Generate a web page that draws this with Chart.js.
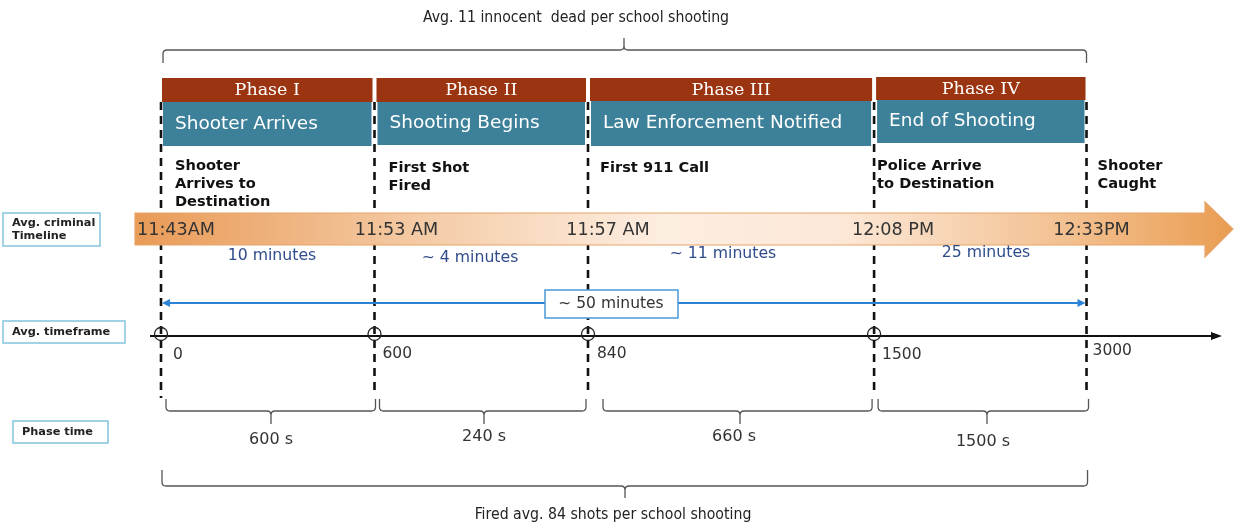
<!DOCTYPE html>
<html><head><meta charset="utf-8">
<script src="https://cdn.jsdelivr.net/npm/chart.js@4.4.1/dist/chart.umd.min.js"></script>
<style>html,body{margin:0;padding:0;background:#fff;}#wrap{width:1234px;height:524px;}</style>
</head><body><div id="wrap"><canvas id="c" width="1234" height="524"></canvas></div>
<script>
// ---------- data ----------
const topNote = "Avg. 11 innocent  dead per school shooting";
const bottomNote = "Fired avg. 84 shots per school shooting";
const rowLabels = [["Avg. criminal","Timeline"],["Avg. timeframe"],["Phase time"]];
const phaseNames = ["Phase I","Phase II","Phase III","Phase IV"];
const phaseTitles = ["Shooter Arrives","Shooting Begins","Law Enforcement Notified","End of Shooting"];
const milestoneLabels = [["Shooter","Arrives to","Destination"],["First Shot","Fired"],["First 911 Call"],["Police Arrive","to Destination"],["Shooter","Caught"]];
const clockTimes = ["11:43AM","11:53 AM","11:57 AM","12:08 PM","12:33PM"];
const timeframeSeconds = [0,600,840,1500,3000];
const phaseMinutes = ["10 minutes","~ 4 minutes","~ 11 minutes","25 minutes"];
const phaseSeconds = [600,240,660,1500];
const totalMinutes = "~ 50 minutes";
const milestoneSlots = [0,1,2,3.34,4.335];

// ---------- drawing ----------
const SANS = '"DejaVu Sans", sans-serif';
const COND = '"DejaVu Sans Condensed", "DejaVu Sans", sans-serif';
const SERIF = '"DejaVu Serif", serif';

function brace(ctx,x1,x2,yL,yE,tx,yT){
  const r=4, s=Math.sign(yE-yL), t=Math.sign(yT-yL);
  ctx.beginPath();
  ctx.moveTo(x1,yE); ctx.lineTo(x1,yL+s*r);
  ctx.quadraticCurveTo(x1,yL,x1+r,yL);
  ctx.lineTo(tx-r,yL);
  ctx.quadraticCurveTo(tx,yL,tx,yL+t*r);
  ctx.lineTo(tx,yT);
  ctx.moveTo(tx,yL+t*r);
  ctx.quadraticCurveTo(tx,yL,tx+r,yL);
  ctx.lineTo(x2-r,yL);
  ctx.quadraticCurveTo(x2,yL,x2,yL+s*r);
  ctx.lineTo(x2,yE);
  ctx.stroke();
}
function text(ctx,str,x,y,font,color,align){
  ctx.font=font; ctx.fillStyle=color; ctx.textAlign=align||'left'; ctx.textBaseline='middle';
  ctx.fillText(str,x,y);
}

const infographic = {
  id:'infographic',
  beforeDatasetsDraw(chart){
    const ctx=chart.ctx, xs=chart.scales.x, ys=chart.scales.y;
    const X=v=>xs.getPixelForValue(v), Y=v=>ys.getPixelForValue(v);
    const P=milestoneSlots.map(X);
    ctx.save();

    // top note + brace
    text(ctx,topNote,576,Y(18),'15.7px '+COND,'#222','center');
    ctx.strokeStyle='#555'; ctx.lineWidth=1.3;
    brace(ctx,P[0]+2,P[4],Y(50),Y(63),624,Y(38));

    // phase headers & boxes
    const hdrY=[78,78,78,77], hdrB=[102,102,101,100], boxB=[146,145,146,143];
    const txtY=[124,123,123,121];
    for(let i=0;i<4;i++){
      const l=P[i]+(i===0?1:2), r=P[i+1]-(i===3?1:2);
      ctx.fillStyle='#9B3511';
      ctx.fillRect(l,Y(hdrY[i]),r-l,Y(hdrB[i])-Y(hdrY[i]));
      ctx.fillStyle='#3C8099';
      ctx.fillRect(l+1,Y(hdrB[i]),r-l-2,Y(boxB[i])-Y(hdrB[i]));
      text(ctx,phaseNames[i],(l+r)/2,Y(hdrY[i]+12),'17.5px '+SERIF,'#fff','center');
      text(ctx,phaseTitles[i],l+13,Y(txtY[i]),'18.5px '+SANS,'#fff','left');
    }

    // dashed milestone lines
    ctx.strokeStyle='#111'; ctx.lineWidth=2.6; ctx.setLineDash([8,6]);
    const dashEnd=[398,394,394,394,394];
    P.forEach((p,i)=>{ ctx.beginPath(); ctx.moveTo(p,Y(102)); ctx.lineTo(p,Y(dashEnd[i])); ctx.stroke(); });
    ctx.setLineDash([]);

    // orange timeline arrow
    const aL=135, aHead=1205, aTip=1233, bT=Y(213), bB=Y(245), hT=Y(202), hB=Y(257), mid=Y(229);
    const g=ctx.createLinearGradient(aL,0,aTip,0);
    g.addColorStop(0,'#E99B57'); g.addColorStop(0.28,'#F5CEAB'); g.addColorStop(0.48,'#FDEEE2');
    g.addColorStop(0.64,'#FCE8D8'); g.addColorStop(0.86,'#F2BE8C'); g.addColorStop(1,'#EA9D52');
    ctx.beginPath();
    ctx.moveTo(aL,bT); ctx.lineTo(aHead,bT); ctx.lineTo(aHead,hT); ctx.lineTo(aTip,mid);
    ctx.lineTo(aHead,hB); ctx.lineTo(aHead,bB); ctx.lineTo(aL,bB); ctx.closePath();
    ctx.fillStyle=g; ctx.fill();
    ctx.strokeStyle='#E8A468'; ctx.lineWidth=1.2; ctx.stroke();

    // row labels
    const boxes=[[3,213,97,33,12],[3,321,122,22,12],[13,421,95,22,22]];
    ctx.strokeStyle='#86C3DD'; ctx.lineWidth=1.5;
    boxes.forEach((b,i)=>{
      ctx.strokeRect(b[0],Y(b[1]),b[2],Y(b[1]+b[3])-Y(b[1]));
      const lines=rowLabels[i];
      lines.forEach((s,k)=>{
        const cy=b[1]+b[3]/2+(k-(lines.length-1)/2)*12.5;
        text(ctx,s,b[4],Y(cy),'bold 11.3px '+SANS,'#222','left');
      });
    });

    // milestone labels
    const mOff=[14,14,12,3,11], mY=[166,168,168,166,166];
    milestoneLabels.forEach((lines,i)=>{
      lines.forEach((s,k)=>text(ctx,s,P[i]+mOff[i],Y(mY[i]+k*18),'bold 14.6px '+SANS,'#111','left'));
    });

    // clock times on arrow
    const cOff=[15,22,20,19,5];
    clockTimes.forEach((s,i)=>text(ctx,s,P[i]+cOff[i],Y(230),'17.6px '+SANS,'#333','center'));

    // phase minutes
    const pmX=[272,470,723,986], pmY=[256,258,254,253];
    phaseMinutes.forEach((s,i)=>text(ctx,s,pmX[i],Y(pmY[i]),'15.7px '+SANS,'#2F4C8B','center'));

    // total duration double arrow
    const by=Y(303);
    ctx.strokeStyle='#2A83D6'; ctx.fillStyle='#2A83D6'; ctx.lineWidth=2;
    ctx.beginPath(); ctx.moveTo(P[0]+6,by); ctx.lineTo(P[4]-6,by); ctx.stroke();
    ctx.beginPath(); ctx.moveTo(P[0]+1,by); ctx.lineTo(P[0]+9,by-4); ctx.lineTo(P[0]+9,by+4); ctx.closePath(); ctx.fill();
    ctx.beginPath(); ctx.moveTo(P[4]-1,by); ctx.lineTo(P[4]-9,by-4); ctx.lineTo(P[4]-9,by+4); ctx.closePath(); ctx.fill();
    ctx.fillStyle='#fff'; ctx.fillRect(545,Y(290),133,Y(318)-Y(290));
    ctx.strokeStyle='#4A98D6'; ctx.lineWidth=1.5; ctx.strokeRect(545,Y(290),133,Y(318)-Y(290));
    text(ctx,totalMinutes,611,Y(304),'15.5px '+SANS,'#333','center');

    // timeframe axis
    const ay=Y(336);
    ctx.strokeStyle='#111'; ctx.fillStyle='#111'; ctx.lineWidth=2;
    ctx.beginPath(); ctx.moveTo(150,ay); ctx.lineTo(1214,ay); ctx.stroke();
    ctx.beginPath(); ctx.moveTo(1222,ay); ctx.lineTo(1211,ay-4); ctx.lineTo(1211,ay+4); ctx.closePath(); ctx.fill();
    const tOff=[12,8,9,8,6], tY=[355,354,354,355,351];
    timeframeSeconds.forEach((v,i)=>text(ctx,String(v),P[i]+tOff[i],Y(tY[i]),'15.5px '+SANS,'#333','left'));

    // phase time braces
    ctx.strokeStyle='#555'; ctx.lineWidth=1.3;
    const bL=[5,5,15,4], bR=[1,-2,-2,2], tipX=[271,484,740,987], psY=[440,437,437,442];
    for(let i=0;i<4;i++){
      brace(ctx,P[i]+bL[i],P[i+1]+bR[i],Y(411),Y(399),tipX[i],Y(424));
      text(ctx,phaseSeconds[i]+' s',tipX[i]-(i===2?6:i===3?4:0),Y(psY[i]),'16px '+SANS,'#333','center');
    }

    // bottom brace + note
    brace(ctx,P[0]+1,P[4]+1,Y(486),Y(470),625,Y(498));
    text(ctx,bottomNote,613,Y(515),'15.7px '+COND,'#222','center');
    ctx.restore();
  }
};

new Chart(document.getElementById('c'),{
  type:'scatter',
  data:{datasets:[{
    data:milestoneSlots.slice(0,4).map(s=>({x:s,y:334})),
    pointRadius:6.5, pointHoverRadius:6.5,
    borderColor:'#222', borderWidth:1.3, backgroundColor:'rgba(255,255,255,0)'
  }]},
  options:{
    responsive:false, animation:false, events:[],
    layout:{padding:0, autoPadding:false},
    plugins:{legend:{display:false},tooltip:{enabled:false}},
    scales:{
      x:{type:'linear',display:false,min:-161/213.5,max:(1234-161)/213.5},
      y:{type:'linear',display:false,min:0,max:524,reverse:true}
    }
  },
  plugins:[infographic]
});
</script></body></html>
